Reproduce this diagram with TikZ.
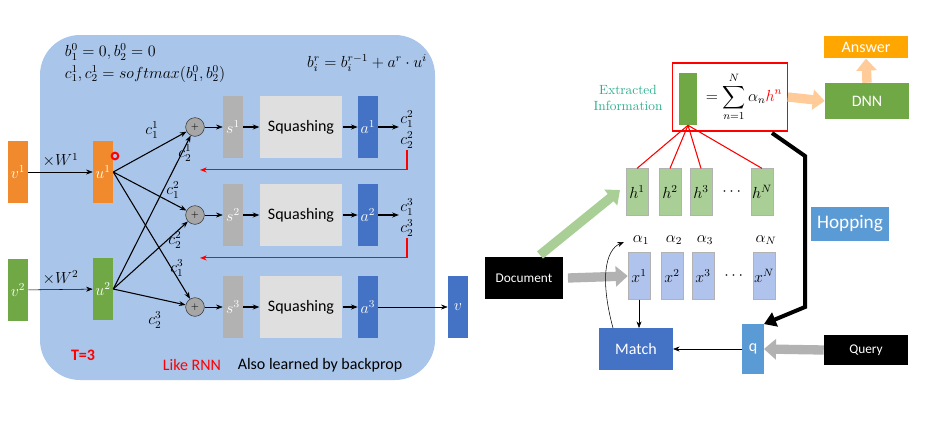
\documentclass[tikz,border=0pt]{standalone}
\usepackage{amsmath}
\usepackage{fontspec}
\setsansfont{Carlito}
\usetikzlibrary{arrows.meta}
\definecolor{panel}{HTML}{A9C5EA}
\definecolor{orng}{HTML}{F08A2C}
\definecolor{grn}{HTML}{70A845}
\definecolor{dblue}{HTML}{4472C4}
\definecolor{lblue}{HTML}{5B9BD5}
\definecolor{pgreen}{HTML}{A9CF96}
\definecolor{pblue}{HTML}{AFC3EC}
\definecolor{teal}{HTML}{2AAE8E}
\tikzset{
  bar/.style={draw=none, minimum width=15pt, minimum height=47pt, inner sep=0pt, text=white},
  sq/.style={fill=gray!25, minimum width=62pt, minimum height=46pt, font=\sffamily\large},
  plus/.style={circle, fill=gray!70, draw=gray!40!black, minimum size=14pt, inner sep=0pt, font=\scriptsize},
  mem/.style={draw=gray!60, minimum width=16.5pt, minimum height=35pt, inner sep=0pt},
  blk/.style={fill=black, text=white, font=\sffamily, minimum height=31pt},
  lnk/.style={-{Stealth[length=5pt]}, thick},
  fat/.style={line width=7pt, -{Triangle[length=9pt, width=15pt]}},
}
\begin{document}
\begin{tikzpicture}[x=0.75pt, y=-0.75pt, font=\large]
  \useasboundingbox (0,0) rectangle (932,422);
  \fill[panel, rounded corners=30pt] (40,35) rectangle (435,380);
  % capsule part
  \node at (145,63) [align=left, inner sep=0pt] {$b_1^0=0, b_2^0=0$\\[2pt]$c_1^1,c_2^1=softmax(b_1^0,b_2^0)$};
  \node at (367,63) {$b_i^r=b_i^{r-1}+a^r\cdot u^i$};
  \node[bar, fill=orng] (v1) at (18,172) {$v^1$};
  \node[bar, fill=grn] (v2) at (18,290) {$v^2$};
  \node[bar, fill=orng] (u1) at (103,172) {$u^1$};
  \node[bar, fill=grn] (u2) at (103,289) {$u^2$};
  \foreach \i/\y in {1/127, 2/215, 3/307} {
    \node[plus] (p\i) at (195,\y) {$+$};
    \node[bar, fill=gray!60] (s\i) at (233,\y) {$s^\i$};
    \node[sq] (q\i) at (301,\y) {Squashing};
    \node[bar, fill=dblue] (a\i) at (368,\y) {$a^\i$};
    \draw[lnk, thin] (p\i) -- (s\i);
    \draw[lnk] (s\i) -- (q\i);
    \draw[lnk] (q\i) -- (a\i);
  }
  \node[bar, fill=dblue] (vo) at (458,307) {$v$};
  \node[inner sep=1pt] (c2) at (407,119) {$c_1^2$};
  \node[inner sep=1pt] (c2b) at (407,140) {$c_2^2$};
  \node[inner sep=1pt] (c3) at (407,207) {$c_1^3$};
  \node[inner sep=1pt] (c3b) at (407,228) {$c_2^3$};
  \draw[lnk] (a1) -- (c2.west |- a1);
  \draw[lnk] (a2) -- (c3.west |- a2);
  \draw[lnk, thin] (a3) -- (vo);
  \draw[lnk, thin] (v1) -- node[above] {$\times W^1$} (u1);
  \draw[lnk, thin] (v2) -- node[above] {$\times W^2$} (u2);
  \foreach \u in {u1,u2}
    \foreach \p in {p1,p2,p3}
      \draw[lnk] (\u.east) -- (\p);
  \draw[red, thick, -{Stealth[length=5pt]}] (c2b.south) -- ++(0,20) -- ++(-207,0);
  \draw[red, thick, -{Stealth[length=5pt]}] (c3b.south) -- ++(0,20) -- ++(-207,0);
  \draw[red, line width=1.5pt] (115,156) circle (2.5pt);
  \node at (152,130) {$c_1^1$};
  \node at (185,153) {$c_2^1$};
  \node at (173,190) {$c_1^2$};
  \node at (175,240) {$c_2^2$};
  \node at (177,268) {$c_1^3$};
  \node at (155,320) {$c_2^3$};
  \node[red, font=\sffamily\large\bfseries] at (83,355) {T=3};
  \node[red, font=\sffamily\large] at (192,365) {Like RNN};
  \node[font=\sffamily\large] at (320,365) {Also learned by backprop};
  % memory network part
  \node[draw=red, thick, minimum width=86pt, minimum height=51pt] (ext) at (730,97) {};
  \node[fill=grn, minimum width=13.5pt, minimum height=39pt, inner sep=0pt] (bar) at (688,99) {};
  \node at (744,97) {$=\displaystyle\sum_{n=1}^N \alpha_n {\color{red}h^n}$};
  \node[teal, align=center, font=\normalsize] at (628,98) {Extracted\\Information};
  \node[fill=grn, text=white, font=\sffamily\large, minimum width=63pt, minimum height=27pt] (dnn) at (867,101) {DNN};
  \node[fill=orange!70!yellow, text=white, font=\sffamily\large, minimum width=63pt, minimum height=17pt, inner sep=0pt] (ans) at (866,47) {Answer};
  \draw[fat, orange!40] (ext.east) -- (dnn.west);
  \draw[fat, orange!40] (dnn.north) -- (ans.south);
  \foreach \i/\x/\t in {1/637/1, 2/670/2, 3/701/3, 4/762/N} {
    \node[mem, fill=pgreen] (h\i) at (\x,192) {$h^\t$};
    \node[mem, fill=pblue] (x\i) at (\x+2,276) {$x^\t$};
    \node (al\i) at (\x+4,240) {$\alpha_\t$};
    \draw[red, thick] (bar.south) -- (h\i.north);
  }
  \node at (733,192) {$\cdots$};
  \node at (735,276) {$\cdots$};
  \node[blk, minimum width=58pt] (doc) at (524,278) {Document};
  \node[fill=dblue, text=white, font=\sffamily\large, minimum width=55pt, minimum height=31pt] (match) at (636,349) {Match};
  \node[fill=lblue, text=white, font=\sffamily\large, minimum width=16pt, minimum height=37pt, inner sep=0pt] (q) at (753,349) {q};
  \node[blk, minimum width=63pt, minimum height=23pt] (query) at (866,350) {Query};
  \node[fill=lblue, text=white, font=\sffamily\Large, minimum width=59pt, minimum height=25.5pt] (hop) at (850,224) {Hopping};
  \draw[fat, pgreen] (540,255) -- (620,190);
  \draw[fat, gray!60] (doc.east) ++(5,0) -- (x1.west);
  \draw[fat, gray!60] (query.west) -- (q.east);
  \draw[lnk, thin] (x1.south) -- (x1.south |- match.north);
  \draw[lnk, thin] (613,328) .. controls (600,280) and (605,250) .. (624,242);
  \draw[lnk, thin] (q.west) -- (match.east);
  \draw[line width=3pt, -{Triangle[length=9pt, width=11pt]}] (772,133) -- (805,156) -- (805,307) -- (q.north east);
\end{tikzpicture}
\end{document}
